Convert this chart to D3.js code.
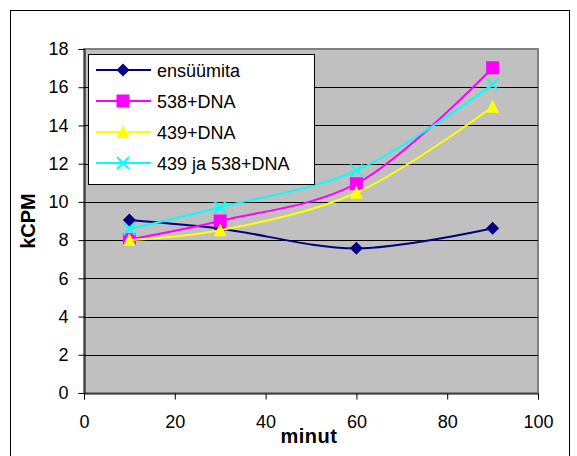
<!DOCTYPE html>
<html>
<head>
  <script src="https://cdn.jsdelivr.net/npm/d3@7"></script>
  <style>
    body { margin: 0; background: #fff; font-family: Arial, "Liberation Sans", sans-serif; }
  </style>
</head>
<body>
  <main id="container"></main>
  <script>
    const minutes = [10, 30, 60, 90];
    const seriesNames = ["ensüümita", "538+DNA", "439+DNA", "439 ja 538+DNA"];
    const ensuumita = [9.05, 8.6, 7.57, 8.62];
    const dna538 = [8.03, 9.0, 10.95, 17.02];
    const dna439 = [8.0, 8.52, 10.48, 14.98];
    const dna439ja538 = [8.58, 9.72, 11.64, 16.15];
    const xTicks = [0, 20, 40, 60, 80, 100];
    const yTicks = [0, 2, 4, 6, 8, 10, 12, 14, 16, 18];

    const colors = ["#000080", "#ff00ff", "#ffff00", "#00ffff"];
    const symbols = ["diamond", "square", "triangle", "cross"];
    const allValues = [ensuumita, dna538, dna439, dna439ja538];

    const W = 577, H = 456;
    const svg = d3.select("#container").append("svg")
      .attr("width", W).attr("height", H);

    // outer chart border
    svg.append("rect")
      .attr("x", 10.5).attr("y", 10.5)
      .attr("width", 559).attr("height", 460)
      .attr("fill", "#fff").attr("stroke", "#000");

    const plotL = 84, plotR = 538, plotT = 49, plotB = 393;
    const x = d3.scaleLinear().domain([0, 100]).range([plotL, plotR]);
    const y = d3.scaleLinear().domain([0, 18]).range([plotB, plotT]);

    // plot area
    svg.append("rect")
      .attr("x", plotL).attr("y", plotT)
      .attr("width", plotR - plotL).attr("height", plotB - plotT)
      .attr("fill", "#c0c0c0").attr("stroke", "#808080").attr("stroke-width", 2);

    // gridlines
    svg.append("g").selectAll("line")
      .data(yTicks.filter(d => d > 0 && d < 18))
      .join("line")
      .attr("x1", plotL).attr("x2", plotR)
      .attr("y1", d => Math.round(y(d)) + 0.5).attr("y2", d => Math.round(y(d)) + 0.5)
      .attr("stroke", "#000").attr("stroke-width", 1);

    // axes
    const yAxis = svg.append("g")
      .attr("transform", `translate(${plotL + 0.5},0)`)
      .call(d3.axisLeft(y).tickValues(yTicks).tickSize(6).tickPadding(10));
    const xAxis = svg.append("g")
      .attr("transform", `translate(0,${plotB + 0.5})`)
      .call(d3.axisBottom(x).tickValues(xTicks).tickSize(6).tickPadding(16));
    [yAxis, xAxis].forEach(g => {
      g.selectAll("text").attr("font-size", 18).attr("font-family", "Arial, 'Liberation Sans', sans-serif").attr("fill", "#000");
      g.selectAll("line").attr("stroke", "#000");
      g.select(".domain").attr("stroke", "#000");
    });

    // axis titles
    svg.append("text")
      .attr("x", 309).attr("y", 443)
      .attr("text-anchor", "middle")
      .attr("font-size", 20).attr("font-weight", "bold")
      .attr("letter-spacing", 0.5)
      .text("minut");
    svg.append("text")
      .attr("transform", "translate(35,221) rotate(-90)")
      .attr("text-anchor", "middle")
      .attr("font-size", 20).attr("font-weight", "bold")
      .text("kCPM");

    const line = d3.line()
      .x((d, i) => x(minutes[i]))
      .y(d => y(d))
      .curve(d3.curveCatmullRom.alpha(0.5));

    function drawMarker(g, type, color, cx, cy) {
      if (type === "diamond") {
        g.append("path")
          .attr("d", `M${cx},${cy - 6.5}L${cx + 6.5},${cy}L${cx},${cy + 6.5}L${cx - 6.5},${cy}Z`)
          .attr("fill", color);
      } else if (type === "square") {
        g.append("rect")
          .attr("x", cx - 6.5).attr("y", cy - 6.5)
          .attr("width", 13).attr("height", 13)
          .attr("fill", color);
      } else if (type === "triangle") {
        g.append("path")
          .attr("d", `M${cx},${cy - 7}L${cx + 6.5},${cy + 6}L${cx - 6.5},${cy + 6}Z`)
          .attr("fill", color);
      } else {
        g.append("path")
          .attr("d", `M${cx - 6},${cy - 6}L${cx + 6},${cy + 6}M${cx + 6},${cy - 6}L${cx - 6},${cy + 6}`)
          .attr("stroke", color).attr("stroke-width", 2).attr("fill", "none");
      }
    }

    const seriesG = svg.append("g");
    allValues.forEach((vals, s) => {
      const g = seriesG.append("g");
      g.append("path")
        .attr("d", line(vals))
        .attr("fill", "none")
        .attr("stroke", colors[s])
        .attr("stroke-width", 2);
      vals.forEach((v, i) => drawMarker(g, symbols[s], colors[s], x(minutes[i]), y(v)));
    });

    // legend
    const lg = svg.append("g");
    lg.append("rect")
      .attr("x", 88.5).attr("y", 54.5)
      .attr("width", 226).attr("height", 130)
      .attr("fill", "#fff").attr("stroke", "#000");
    seriesNames.forEach((name, i) => {
      const ly = 70 + i * 31;
      lg.append("line")
        .attr("x1", 96).attr("x2", 151)
        .attr("y1", ly).attr("y2", ly)
        .attr("stroke", colors[i]).attr("stroke-width", 2);
      drawMarker(lg, symbols[i], colors[i], 123, ly);
      lg.append("text")
        .attr("x", 157).attr("y", ly + 6.5)
        .attr("font-size", 18)
        .text(name);
    });
  </script>
</body>
</html>
